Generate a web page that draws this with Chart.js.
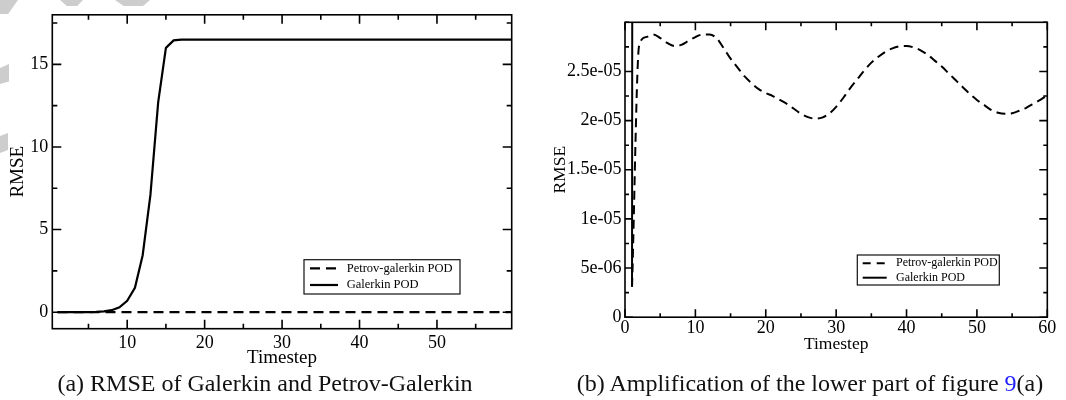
<!DOCTYPE html>
<html>
<head>
<meta charset="utf-8">
<script src="https://cdn.jsdelivr.net/npm/chart.js@4/dist/chart.umd.min.js"></script>
<style>
  html, body { margin: 0; padding: 0; background: #fff; }
  body { width: 1066px; height: 400px; position: relative; overflow: hidden; font-family: "Liberation Serif", "Times New Roman", serif; }
  canvas { position: absolute; top: 0; }
  #chartA { left: 0; }
  #chartB { left: 535px; }
  .wm { position: absolute; background: #cdcdcd; }
  .caption { position: absolute; top: 371px; width: 500px; text-align: center; white-space: nowrap;
             font-size: 24px; line-height: 24px; color: #111; }
  .ref { color: #1f1fff; }
</style>
</head>
<body>
<!-- restos de la marca de agua gris -->
<div class="wm" style="left:0;top:0;width:18px;height:14px;clip-path:polygon(0 0,100% 0,45% 100%,0 100%)"></div>
<div class="wm" style="left:60px;top:0;width:23px;height:6px;clip-path:polygon(0 0,100% 0,75% 100%,30% 100%)"></div>
<div class="wm" style="left:115px;top:0;width:35px;height:6px;clip-path:polygon(0 0,100% 0,80% 100%,25% 100%)"></div>
<div class="wm" style="left:0;top:64px;width:9px;height:20px;clip-path:polygon(0 20%,100% 0,100% 88%,0 100%)"></div>
<div class="wm" style="left:0;top:133px;width:8px;height:20px;clip-path:polygon(0 15%,100% 0,100% 85%,0 100%)"></div>

<canvas id="chartA" width="535" height="372"></canvas>
<canvas id="chartB" width="531" height="372"></canvas>

<div class="caption" style="left:15px">(a) RMSE of Galerkin and Petrov-Galerkin</div>
<div class="caption" style="left:560px">(b) Amplification of the lower part of figure <span class="ref">9</span>(a)</div>

<script>
// =========================
// DATOS
// =========================
const timesteps = [
  1, 2, 3, 4, 5, 6, 7, 8, 9, 10, 11, 12, 13, 14, 15, 16, 17, 18, 19, 20,
  21, 22, 23, 24, 25, 26, 27, 28, 29, 30, 31, 32, 33, 34, 35, 36, 37, 38, 39, 40,
  41, 42, 43, 44, 45, 46, 47, 48, 49, 50, 51, 52, 53, 54, 55, 56, 57, 58, 59, 60
];

const galerkinRmse = [
  3.1e-6, 0.001, 0.002, 0.004, 0.008, 0.02, 0.05, 0.12, 0.3, 0.69,
  1.48, 3.45, 7.1, 12.7, 16.0, 16.45, 16.5, 16.5, 16.5, 16.5,
  16.5, 16.5, 16.5, 16.5, 16.5, 16.5, 16.5, 16.5, 16.5, 16.5,
  16.5, 16.5, 16.5, 16.5, 16.5, 16.5, 16.5, 16.5, 16.5, 16.5,
  16.5, 16.5, 16.5, 16.5, 16.5, 16.5, 16.5, 16.5, 16.5, 16.5,
  16.5, 16.5, 16.5, 16.5, 16.5, 16.5, 16.5, 16.5, 16.5, 16.5
];

const petrovRmse = [
  3.1e-6, 2.76e-5, 2.85e-5, 2.875e-5, 2.84e-5, 2.79e-5, 2.76e-5, 2.77e-5, 2.81e-5, 2.85e-5,
  2.875e-5, 2.875e-5, 2.84e-5, 2.74e-5, 2.63e-5, 2.54e-5, 2.45e-5, 2.38e-5, 2.32e-5, 2.28e-5,
  2.25e-5, 2.21e-5, 2.17e-5, 2.12e-5, 2.07e-5, 2.035e-5, 2.02e-5, 2.03e-5, 2.07e-5, 2.14e-5,
  2.23e-5, 2.33e-5, 2.42e-5, 2.51e-5, 2.59e-5, 2.65e-5, 2.70e-5, 2.735e-5, 2.755e-5, 2.76e-5,
  2.745e-5, 2.715e-5, 2.67e-5, 2.61e-5, 2.55e-5, 2.48e-5, 2.41e-5, 2.34e-5, 2.27e-5, 2.21e-5,
  2.16e-5, 2.11e-5, 2.08e-5, 2.07e-5, 2.075e-5, 2.10e-5, 2.13e-5, 2.17e-5, 2.21e-5, 2.26e-5
];

const seriesLabels = ["Petrov-galerkin POD", "Galerkin POD"];

// etiquetas de los ejes
const leftXTickValues = [10, 20, 30, 40, 50];
const leftYTickValues = [0, 5, 10, 15];
const rightXTickValues = [0, 10, 20, 30, 40, 50, 60];
const rightYTickValues = [0, 5e-6, 1e-5, 1.5e-5, 2e-5, 2.5e-5];
const rightYTickLabels = ["0", "5e-06", "1e-05", "1.5e-05", "2e-05", "2.5e-05"];

const SERIF = '"Liberation Serif", "Times New Roman", serif';

function toPoints(ys) {
  return timesteps.map((t, i) => ({ x: t, y: ys[i] }));
}

function labelFrom(values, labels) {
  return (v) => {
    const i = values.findIndex((w) => Math.abs(w - v) < Math.abs(w) * 1e-6 + 1e-12);
    if (i < 0) return "";
    return labels ? labels[i] : String(values[i]);
  };
}

// =========================
// PLUGINS: marco con ticks hacia dentro + leyenda en caja
// =========================
const frameTicks = {
  id: "frameTicks",
  afterDatasetsDraw(chart, args, opts) {
    const { ctx, chartArea: a, scales } = chart;
    const x = scales.x;
    const y = scales.y;
    ctx.save();
    ctx.strokeStyle = "#000";
    ctx.lineWidth = opts.lineWidth;
    ctx.setLineDash([]);
    ctx.beginPath();
    x.ticks.forEach((t) => {
      const px = x.getPixelForValue(t.value);
      const len = t.label !== "" ? opts.major : opts.minor;
      ctx.moveTo(px, a.bottom);
      ctx.lineTo(px, a.bottom - len);
      ctx.moveTo(px, a.top);
      ctx.lineTo(px, a.top + len);
    });
    y.ticks.forEach((t) => {
      const py = y.getPixelForValue(t.value);
      const len = t.label !== "" ? opts.major : opts.minor;
      ctx.moveTo(a.left, py);
      ctx.lineTo(a.left + len, py);
      ctx.moveTo(a.right, py);
      ctx.lineTo(a.right - len, py);
    });
    ctx.stroke();
    ctx.strokeRect(a.left, a.top, a.right - a.left, a.bottom - a.top);
    ctx.restore();
  }
};

const boxLegend = {
  id: "boxLegend",
  afterDraw(chart, args, o) {
    const { ctx } = chart;
    ctx.save();
    ctx.fillStyle = "#fff";
    ctx.fillRect(o.left, o.top, o.width, o.height);
    ctx.strokeStyle = "#111";
    ctx.lineWidth = 1.2;
    ctx.strokeRect(o.left, o.top, o.width, o.height);
    ctx.font = o.font;
    ctx.textBaseline = "middle";
    chart.data.datasets.forEach((ds, i) => {
      const yy = o.rows[i];
      ctx.strokeStyle = "#000";
      ctx.lineWidth = ds.borderWidth;
      ctx.setLineDash(o.dashes[i]);
      ctx.beginPath();
      ctx.moveTo(o.lineX0, yy);
      ctx.lineTo(o.lineX1, yy);
      ctx.stroke();
      ctx.setLineDash([]);
      ctx.fillStyle = "#000";
      ctx.fillText(ds.label, o.textX, yy);
    });
    ctx.restore();
  }
};

// =========================
// GRAFICA (a)
// =========================
new Chart(document.getElementById("chartA"), {
  type: "line",
  data: {
    datasets: [
      {
        label: seriesLabels[0],
        data: toPoints(petrovRmse),
        borderColor: "#000",
        borderWidth: 2.2,
        borderDash: [10, 6],
        pointRadius: 0,
        tension: 0
      },
      {
        label: seriesLabels[1],
        data: toPoints(galerkinRmse),
        borderColor: "#000",
        borderWidth: 2.2,
        pointRadius: 0,
        tension: 0
      }
    ]
  },
  options: {
    responsive: false,
    animation: false,
    devicePixelRatio: 1,
    layout: { padding: { top: 6, right: 23.3, bottom: 2.3, left: 0 } },
    plugins: {
      legend: { display: false },
      tooltip: { enabled: false },
      frameTicks: { major: 9, minor: 5, lineWidth: 1.6 },
      boxLegend: {
        left: 304, top: 259.7, width: 156, height: 34.3,
        lineX0: 310, lineX1: 338, textX: 346.7, rows: [268.3, 285],
        font: "12.5px " + SERIF, dashes: [[10, 6], []]
      }
    },
    scales: {
      x: {
        type: "linear",
        min: 0.33,
        max: 59.65,
        afterFit: (s) => { s.height = 41; },
        grid: { display: false, drawTicks: false },
        border: { display: false },
        ticks: {
          stepSize: 5,
          includeBounds: false,
          autoSkip: false,
          maxRotation: 0,
          padding: 3.3,
          color: "#000",
          font: { family: SERIF, size: 18 },
          callback: labelFrom(leftXTickValues)
        },
        title: {
          display: true,
          text: "Timestep",
          color: "#000",
          font: { family: SERIF, size: 19 },
          padding: { top: 0, bottom: 0 }
        }
      },
      y: {
        min: -1,
        max: 18,
        afterFit: (s) => { s.width = 52.3; },
        grid: { display: false, drawTicks: false },
        border: { display: false },
        ticks: {
          stepSize: 2.5,
          includeBounds: false,
          autoSkip: false,
          padding: 4,
          color: "#000",
          font: { family: SERIF, size: 18 },
          callback: labelFrom(leftYTickValues)
        },
        title: {
          display: true,
          text: "RMSE",
          color: "#000",
          font: { family: SERIF, size: 19 },
          padding: { top: 6.6, bottom: 0 }
        }
      }
    }
  },
  plugins: [frameTicks, boxLegend]
});

// =========================
// GRAFICA (b)
// =========================
new Chart(document.getElementById("chartB"), {
  type: "line",
  data: {
    datasets: [
      {
        label: seriesLabels[0],
        data: toPoints(petrovRmse),
        borderColor: "#000",
        borderWidth: 2,
        borderDash: [9, 5.5],
        pointRadius: 0,
        cubicInterpolationMode: "monotone"
      },
      {
        label: seriesLabels[1],
        data: toPoints(galerkinRmse),
        borderColor: "#000",
        borderWidth: 2,
        pointRadius: 0,
        tension: 0
      }
    ]
  },
  options: {
    responsive: false,
    animation: false,
    devicePixelRatio: 1,
    layout: { padding: { top: 22.3, right: 18.7, bottom: 17.5, left: 0 } },
    plugins: {
      legend: { display: false },
      tooltip: { enabled: false },
      frameTicks: { major: 8, minor: 4, lineWidth: 1.6 },
      boxLegend: {
        left: 322.3, top: 255, width: 142, height: 30,
        lineX0: 327.7, lineX1: 351.7, textX: 361, rows: [263.3, 277.7],
        font: "12px " + SERIF, dashes: [[8, 6], []]
      }
    },
    scales: {
      x: {
        type: "linear",
        min: 0,
        max: 60,
        afterFit: (s) => { s.height = 37.3; },
        grid: { display: false, drawTicks: false },
        border: { display: false },
        ticks: {
          stepSize: 5,
          autoSkip: false,
          maxRotation: 0,
          padding: 0.5,
          color: "#000",
          font: { family: SERIF, size: 18 },
          callback: labelFrom(rightXTickValues)
        },
        title: {
          display: true,
          text: "Timestep",
          color: "#000",
          font: { family: SERIF, size: 17.5 },
          padding: { top: 0, bottom: 0 }
        }
      },
      y: {
        min: 0,
        max: 3e-5,
        afterFit: (s) => { s.width = 90; },
        grid: { display: false, drawTicks: false },
        border: { display: false },
        ticks: {
          stepSize: 2.5e-6,
          autoSkip: false,
          padding: 3.5,
          color: "#000",
          font: { family: SERIF, size: 18 },
          callback: labelFrom(rightYTickValues, rightYTickLabels)
        },
        title: {
          display: true,
          text: "RMSE",
          color: "#000",
          font: { family: SERIF, size: 17.5 },
          padding: { top: 14.5, bottom: 0 }
        }
      }
    }
  },
  plugins: [frameTicks, boxLegend]
});
</script>
</body>
</html>
